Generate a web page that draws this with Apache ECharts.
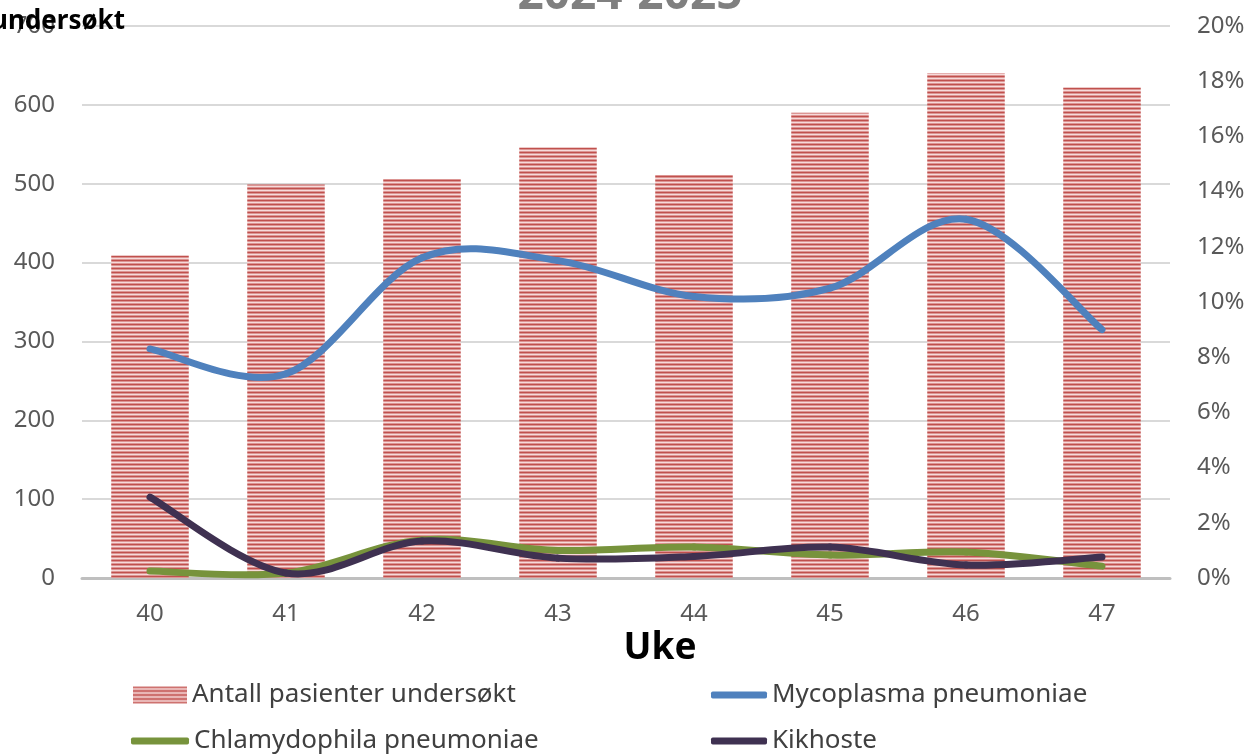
<!DOCTYPE html>
<html><head><meta charset="utf-8">
<script src="https://cdn.jsdelivr.net/npm/echarts@6/dist/echarts.min.js"></script>
<style>html,body{margin:0;padding:0;background:#fff}#c{width:1260px;height:756px}</style>
</head><body><div id="c"></div>
<script>
const weeks = ['40','41','42','43','44','45','46','47'];
const antall = [409, 499, 506, 546, 511, 590, 640, 622];
const mycoplasma = [8.3, 7.4, 11.6, 11.5, 10.2, 10.5, 13.0, 9.0];
const chlamydophila = [0.25, 0.18, 1.38, 1.0, 1.12, 0.83, 0.94, 0.43];
const kikhoste = [2.93, 0.18, 1.34, 0.72, 0.78, 1.12, 0.47, 0.76];
const leftTicks = {min: 0, max: 700, interval: 100};
const rightTicks = {min: 0, max: 20, interval: 2};

const FONT = 'Noto Sans';
function stripe() {
  const c = document.createElement('canvas');
  c.width = 4; c.height = 4;
  const g = c.getContext('2d');
  g.fillStyle = '#f6dada'; g.fillRect(0,0,4,4);
  g.fillStyle = '#c0504d'; g.fillRect(0,0,4,1);
  g.fillStyle = '#dc9593'; g.fillRect(0,1,4,1);
  g.fillStyle = '#dc9593'; g.fillRect(0,3,4,1);
  return {image: c, repeat: 'repeat'};
}
const pat = stripe();

// Excel-like smoothed line drawn segment by segment through the chart's own coordinate system
function smoothSeries(name, values, color, z) {
  return {
    name: name, type: 'custom', yAxisIndex: 1, z: z,
    data: values.map((v, i) => [i, v]),
    encode: {x: 0, y: 1},
    itemStyle: {color: color},
    renderItem: function (params, api) {
      const i = params.dataIndex;
      if (i >= values.length - 1) return null;
      const n = values.length;
      const pt = k => { const j = Math.max(0, Math.min(n - 1, k)); return api.coord([j, values[j]]); };
      const p0 = pt(i - 1), p1 = pt(i), p2 = pt(i + 1), p3 = pt(i + 2);
      const t = 1 / 6;
      const c1 = [p1[0] + (p2[0] - p0[0]) * t, p1[1] + (p2[1] - p0[1]) * t];
      const c2 = [p2[0] - (p3[0] - p1[0]) * t, p2[1] - (p3[1] - p1[1]) * t];
      return {
        type: 'path',
        shape: {pathData: 'M' + p1[0] + ' ' + p1[1] + ' C' + c1[0] + ' ' + c1[1] + ' ' + c2[0] + ' ' + c2[1] + ' ' + p2[0] + ' ' + p2[1]},
        style: {fill: null, stroke: color, lineWidth: 7, lineCap: 'round'}
      };
    }
  };
}

const chart = echarts.init(document.getElementById('c'));
const legendBase = {orient:'horizontal', itemGap: 4, textStyle:{fontFamily:FONT, fontSize:26, color:'#404040'}, selectedMode:false};
chart.setOption({
  animation: false,
  title: {text:'2024-2025', left:'center', top:-32, textStyle:{fontFamily:FONT, fontSize:46, fontWeight:'bold', color:'#808080'}},
  graphic: [
    {type:'text', style:{text:'Antall undersøkt', x:125, y:22, textAlign:'right', textVerticalAlign:'middle', font:'bold 26px "Noto Sans"', fill:'#000'}, z:100},
    {type:'text', style:{text:'Uke', x:660, y:648, textAlign:'center', textVerticalAlign:'middle', font:'bold 37px "Noto Sans"', fill:'#000'}}
  ],
  grid: {left:82, right:90, top:26, bottom:178},
  legend: [
    Object.assign({}, legendBase, {left:128, top:677, itemWidth:54, itemHeight:17, data:[{name:'Antall pasienter undersøkt', icon:'rect'}]}),
    Object.assign({}, legendBase, {left:706, top:677, itemWidth:56, itemHeight:7, data:[{name:'Mycoplasma pneumoniae', icon:'roundRect'}]}),
    Object.assign({}, legendBase, {left:126, top:723, itemWidth:58, itemHeight:7, data:[{name:'Chlamydophila pneumoniae', icon:'roundRect'}]}),
    Object.assign({}, legendBase, {left:706, top:723, itemWidth:56, itemHeight:7, data:[{name:'Kikhoste', icon:'roundRect'}]})
  ],
  xAxis: {type:'category', data:weeks,
    axisLine:{lineStyle:{color:'#bfbfbf', width:3}}, axisTick:{show:false},
    axisLabel:{fontFamily:FONT, fontSize:24, color:'#595959', margin:24}},
  yAxis: [
    {type:'value', min:leftTicks.min, max:leftTicks.max, interval:leftTicks.interval,
      axisLine:{show:false}, axisTick:{show:false},
      axisLabel:{fontFamily:FONT, fontSize:24, color:'#595959', margin:27},
      splitLine:{lineStyle:{color:'#d9d9d9', width:2}}},
    {type:'value', min:rightTicks.min, max:rightTicks.max, interval:rightTicks.interval,
      axisLine:{show:false}, axisTick:{show:false},
      axisLabel:{fontFamily:FONT, fontSize:24, color:'#595959', margin:27, formatter:'{value}%'},
      splitLine:{show:false}}
  ],
  series: [
    {name:'Antall pasienter undersøkt', type:'bar', data:antall, barWidth:'57%', itemStyle:{color:pat}, z:2},
    smoothSeries('Mycoplasma pneumoniae', mycoplasma, '#4f81bd', 5),
    smoothSeries('Chlamydophila pneumoniae', chlamydophila, '#77933c', 6),
    smoothSeries('Kikhoste', kikhoste, '#3f3151', 7)
  ]
});
</script></body></html>
